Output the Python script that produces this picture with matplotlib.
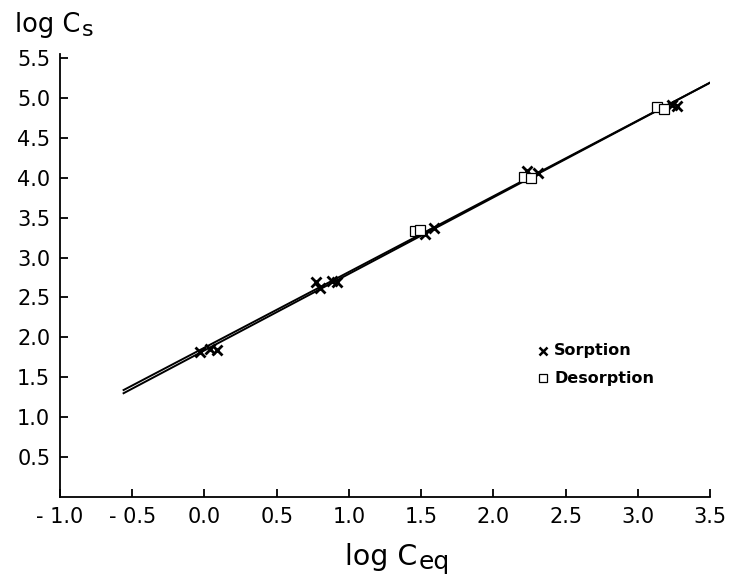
import matplotlib
matplotlib.use("Agg")
import matplotlib.pyplot as plt

# sorption points (x marks)
sorp_x = [-0.03, 0.04, 0.09, 0.77, 0.80, 0.88, 0.92, 1.53, 1.59, 2.23, 2.31, 3.24, 3.27]
sorp_y = [1.82, 1.86, 1.84, 2.69, 2.62, 2.70, 2.69, 3.30, 3.37, 4.08, 4.06, 4.91, 4.90]

# desorption points (open squares)
desorp_x = [1.46, 1.49, 2.21, 2.26, 3.13, 3.18]
desorp_y = [3.33, 3.34, 4.01, 3.99, 4.88, 4.86]

# fitted lines
fit_x = [-0.56, 3.5]
sorp_fit = [1.34, 5.19]
desorp_fit = [1.30, 5.19]

xticks = [-1.0, -0.5, 0.0, 0.5, 1.0, 1.5, 2.0, 2.5, 3.0, 3.5]
xlabels = ["- 1.0", "- 0.5", "0.0", "0.5", "1.0", "1.5", "2.0", "2.5", "3.0", "3.5"]
yticks = [0.5, 1.0, 1.5, 2.0, 2.5, 3.0, 3.5, 4.0, 4.5, 5.0, 5.5]
ylabels = ["0.5", "1.0", "1.5", "2.0", "2.5", "3.0", "3.5", "4.0", "4.5", "5.0", "5.5"]

plt.rcParams['font.family'] = ['DejaVu Sans']

W, H = 732, 583
fig = plt.figure(figsize=(W / 100, H / 100), dpi=100)
ax = fig.add_axes([0.082, 0.1475, 0.888, 0.76])

ax.plot(fit_x, sorp_fit, color='black', lw=1.4)
ax.plot(fit_x, desorp_fit, color='black', lw=1.4)
ax.plot(sorp_x, sorp_y, ls='none', marker='x', ms=6.5, mew=2, color='black')
ax.plot(desorp_x, desorp_y, ls='none', marker='s', ms=6.5, mew=0.9,
        mfc='white', mec='black')

ax.set_xlim(-1.0, 3.5)
ax.set_ylim(0, 5.55)
ax.set_xticks(xticks)
ax.set_xticklabels(xlabels)
ax.set_yticks(yticks)
ax.set_yticklabels(ylabels)
ax.tick_params(direction='in', length=6, width=1.3, labelsize=15, pad=7, colors='black')
for s in ['top', 'right']:
    ax.spines[s].set_visible(False)
for s in ['left', 'bottom']:
    ax.spines[s].set_linewidth(1.3)

# legend drawn by hand
ax.plot([2.345], [1.83], marker='x', ms=5.5, mew=1.8, color='black', ls='none')
ax.plot([2.345], [1.49], marker='s', ms=6, mew=0.9, mfc='white', mec='black', ls='none')
ax.text(2.42, 1.83, "Sorption", fontsize=11.5, fontweight='bold', va='center')
ax.text(2.42, 1.49, "Desorption", fontsize=11.5, fontweight='bold', va='center')

# axis titles with subscripts as separate texts
renderer = fig.canvas.get_renderer()


def label_with_sub(x_px, base_px, main, sub, size, sub_size, drop_px):
    t = fig.text(x_px / W, 1 - base_px / H, main, fontsize=size,
                 ha='left', va='baseline')
    ext = t.get_window_extent(renderer)
    fig.text((ext.x1 + 1) / W, 1 - (base_px + drop_px) / H, sub,
             fontsize=sub_size, ha='left', va='baseline')


label_with_sub(15, 32, "log C", "s", 18.5, 16, 4)
label_with_sub(345, 565, "log C", "eq", 20.5, 18, 4.5)

fig.savefig("out.png", dpi=100)
